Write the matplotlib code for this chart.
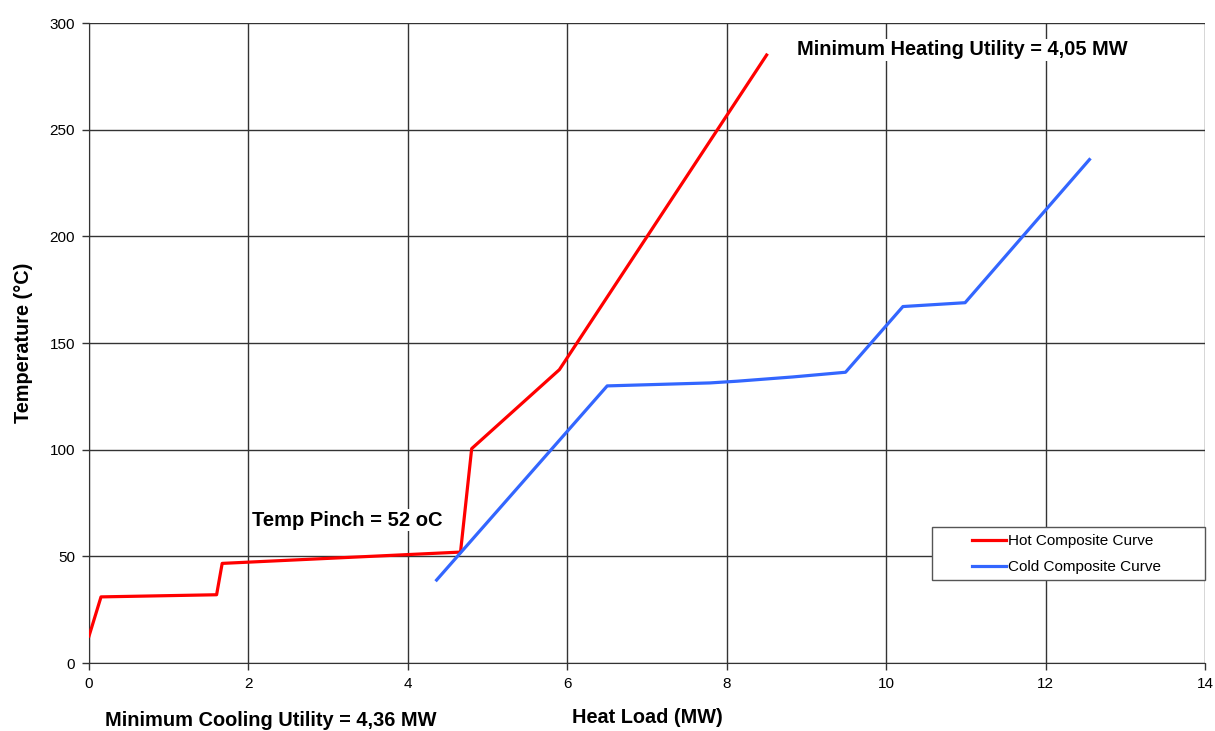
import matplotlib
matplotlib.use("Agg")
import matplotlib.pyplot as plt
from matplotlib.patches import Rectangle

plt.rcParams['font.family'] = ['Liberation Sans', 'DejaVu Sans']

# hot composite curve (MW, degC)
hot_q = [0.0, 0.15, 1.6, 1.67, 4.66, 4.80, 5.90, 8.50]
hot_t = [12.7, 31.0, 32.0, 46.7, 52.0, 100.5, 137.5, 285.0]

# cold composite curve
cold_q = [4.36, 6.50, 7.79, 8.13, 8.83, 9.49, 10.21, 10.99, 12.55]
cold_t = [38.9, 129.9, 131.3, 132.1, 134.1, 136.3, 167.1, 168.9, 236.0]

x_ticks = [0, 2, 4, 6, 8, 10, 12, 14]
y_ticks = [0, 50, 100, 150, 200, 250, 300]

fig = plt.figure(figsize=(12.15, 7.31), dpi=100)
ax = fig.add_axes([0.0733, 0.093, 0.9185, 0.8755])

ax.plot(hot_q, hot_t, color='#ff0000', lw=2.3, label='Hot Composite Curve', zorder=3)
ax.plot(cold_q, cold_t, color='#3366ff', lw=2.3, label='Cold Composite Curve', zorder=3)

ax.set_xlim(0, 14)
ax.set_ylim(0, 300)
ax.set_xticks(x_ticks)
ax.set_yticks(y_ticks)
ax.tick_params(labelsize=11, length=5, width=1, color='#333333', pad=5)
ax.grid(True, color='#333333', lw=1)
ax.set_axisbelow(True)
for side in ['top', 'right']:
    ax.spines[side].set_visible(False)
for side in ['left', 'bottom']:
    ax.spines[side].set_color('#333333')

ax.set_xlabel('Heat Load (MW)', fontsize=14.3, fontweight='bold', labelpad=12)
ax.set_ylabel('Temperature (\u00b0C)', fontsize=14.3, fontweight='bold', labelpad=12)

box = dict(facecolor='white', edgecolor='none', pad=1)
ax.text(2.05, 67, 'Temp Pinch = 52 oC', fontsize=14.5, fontweight='bold',
        va='center', ha='left', bbox=box, zorder=2)
ax.text(8.88, 287.5, 'Minimum Heating Utility = 4,05 MW', fontsize=14.4,
        fontweight='bold', va='center', ha='left', bbox=box, zorder=2)
fig.text(105 / 1215, 1 - 721 / 731, 'Minimum Cooling Utility = 4,36 MW',
         fontsize=14.4, fontweight='bold', va='center', ha='left')

# legend box drawn separately, entries centred inside
ax.add_patch(Rectangle((0.7554, 0.13), 0.2446, 0.0825, transform=ax.transAxes,
                       facecolor='white', edgecolor='#555555', lw=1, zorder=4,
                       clip_on=False))
leg = ax.legend(loc='center', bbox_to_anchor=(0.876, 0.170), fontsize=11,
                frameon=False, handlelength=2.2, handletextpad=0.15,
                borderpad=0.2, labelspacing=0.75)
leg.set_zorder(5)

fig.savefig('out.png', dpi=100)
